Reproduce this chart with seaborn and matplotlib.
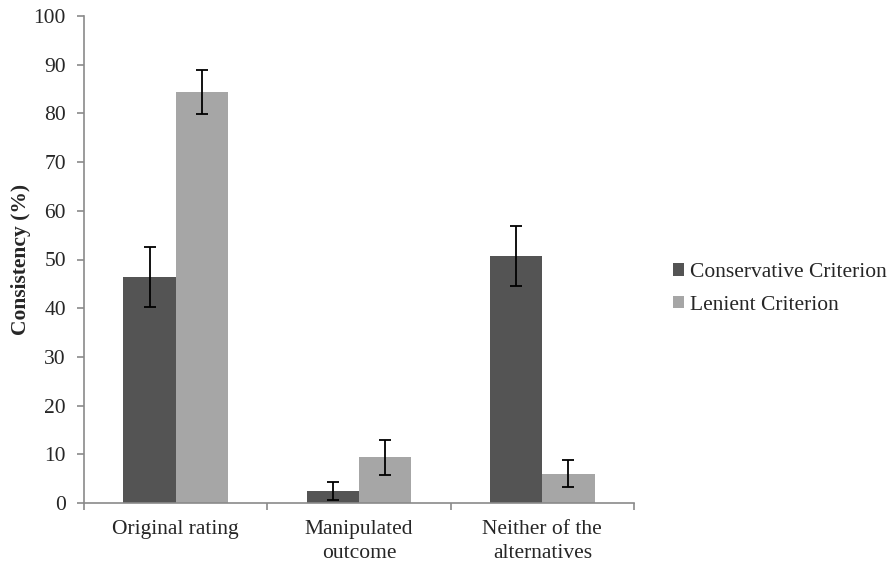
import numpy as np
import pandas as pd
import matplotlib
matplotlib.use("Agg")
import matplotlib.pyplot as plt
from matplotlib.ticker import FixedLocator
import seaborn as sns

categories = ["Original rating", "Manipulated\noutcome", "Neither of the\nalternatives"]
groups = ["Conservative Criterion", "Lenient Criterion"]
conservative = [46.4, 2.5, 50.7]
lenient = [84.4, 9.4, 6.0]
conservative_err = [6.1, 1.9, 6.1]
lenient_err = [4.5, 3.6, 2.8]

colors = ["#545454", "#a6a6a6"]
axis_gray = "#8a8a8a"

df = pd.DataFrame({
    "category": categories * 2,
    "group": [groups[0]] * 3 + [groups[1]] * 3,
    "value": conservative + lenient,
})

sns.set_style("white")
plt.rcParams["font.family"] = ["Liberation Serif", "DejaVu Serif"]
fs = 15.5

fig = plt.figure(figsize=(8.92, 5.69), dpi=100)
ax = fig.add_axes([84 / 892, 1 - 503 / 569, 550 / 892, 487 / 569])

sns.barplot(data=df, x="category", y="value", hue="group", order=categories,
            hue_order=groups, palette=colors, width=0.57, errorbar=None,
            saturation=1, edgecolor="none", ax=ax)

# error bars at the centres of the drawn bars
errs = [conservative_err, lenient_err]
for cont, err, vals in zip(ax.containers, errs, [conservative, lenient]):
    xs = [p.get_x() + p.get_width() / 2 for p in cont.patches]
    ax.errorbar(xs, vals, yerr=err, fmt="none", ecolor="black",
                elinewidth=1.3, capsize=4, capthick=1.3)

ax.set_xlim(-0.5, 2.5)
ax.set_ylim(0, 100)
ax.set_yticks(np.arange(0, 101, 10))
ax.set_xlabel("")
ax.set_ylabel("Consistency (%)", fontsize=fs, fontweight="bold", labelpad=2)

for side in ["top", "right"]:
    ax.spines[side].set_visible(False)
for side in ["left", "bottom"]:
    ax.spines[side].set_color(axis_gray)
    ax.spines[side].set_linewidth(1.2)

ax.tick_params(axis="y", direction="out", length=5, width=1.2, color=axis_gray,
               labelsize=fs, pad=8, left=True)
ax.tick_params(axis="x", which="major", length=0, labelsize=fs, pad=12)
ax.xaxis.set_minor_locator(FixedLocator([-0.5, 0.5, 1.5, 2.5]))
ax.tick_params(axis="x", which="minor", direction="out", length=5, width=1.2,
               color=axis_gray, bottom=True)
for lbl in ax.get_xticklabels():
    lbl.set_linespacing(1.35)

ax.legend(loc="center left", bbox_to_anchor=(673 / 892, 1 - 289 / 569),
          bbox_transform=fig.transFigure, frameon=False, fontsize=fs,
          handlelength=0.52, handleheight=0.52, handletextpad=0.25,
          labelspacing=0.62, borderaxespad=0, borderpad=0)

fig.savefig("out.png", dpi=100)
